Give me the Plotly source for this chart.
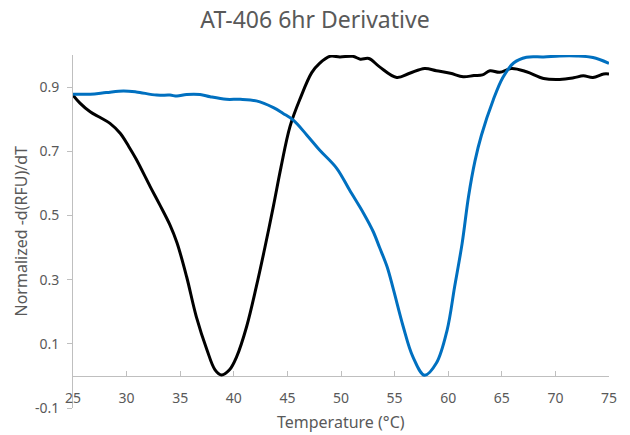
import plotly.graph_objects as go

# Temperature (°C) and normalized -d(RFU)/dT for each run
black_temp = [25.0, 25.65, 26.6, 27.5, 28.45, 29.4, 30.2, 30.9, 32.2, 33.1, 34.05, 34.7,
              35.6, 36.5, 37.5, 38.25, 38.85, 39.6, 40.27, 41.2, 42.1, 42.9, 43.7, 44.4,
              45.24, 46.2, 47.27, 48.0, 48.97, 49.9, 51.1, 51.8, 52.6, 53.6, 55.2, 56.4,
              57.8, 58.9, 60.2, 61.4, 62.4, 63.2, 63.9, 64.8, 65.9, 67.3, 68.9, 70.4,
              71.7, 72.6, 73.5, 74.5, 75.0]
black_vals = [0.875, 0.85, 0.823, 0.806, 0.787, 0.756, 0.715, 0.675, 0.59, 0.533, 0.47, 0.415,
              0.309, 0.185, 0.081, 0.019, 0.003, 0.019, 0.06, 0.154, 0.278, 0.40, 0.53, 0.65,
              0.777, 0.865, 0.945, 0.974, 0.996, 0.994, 0.996, 0.987, 0.989, 0.963, 0.93, 0.943,
              0.958, 0.951, 0.943, 0.932, 0.936, 0.938, 0.951, 0.946, 0.958, 0.948, 0.927, 0.924,
              0.929, 0.935, 0.93, 0.941, 0.941]

blue_temp = [25.0, 26.6, 28.1, 29.7, 30.9, 32.8, 34.05, 34.7, 35.6, 36.85, 37.8, 39.3,
             40.6, 42.1, 43.7, 44.6, 45.55, 46.8, 48.0, 49.6, 50.8, 52.1, 53.0, 53.6,
             54.3, 54.9, 55.8, 56.7, 57.8, 58.9, 59.9, 60.6, 61.3, 61.9, 62.5, 63.1,
             64.2, 65.1, 66.1, 67.3, 68.9, 70.4, 72.0, 73.5, 75.0]
blue_vals = [0.878, 0.878, 0.883, 0.888, 0.885, 0.875, 0.875, 0.872, 0.877, 0.877, 0.870, 0.862,
             0.862, 0.857, 0.836, 0.818, 0.797, 0.751, 0.704, 0.647, 0.579, 0.507, 0.45, 0.40,
             0.34, 0.268, 0.154, 0.06, 0.002, 0.04, 0.143, 0.278, 0.413, 0.56, 0.67, 0.75,
             0.86, 0.93, 0.975, 0.993, 0.994, 0.997, 0.997, 0.992, 0.974]

y_ticks = [-0.1, 0.1, 0.3, 0.5, 0.7, 0.9]
y_tick_text = ["-0.1", "0.1", "0.3", "0.5", "0.7", "0.9"]
x_ticks = [25, 30, 35, 40, 45, 50, 55, 60, 65, 70, 75]

FONT = "Noto Sans"
GREY_TEXT = "#595959"
AXIS_GREY = "#bfbfbf"
W, H = 630, 435

fig = go.Figure()
fig.add_trace(go.Scatter(x=black_temp, y=black_vals, mode="lines",
                         line=dict(color="#000000", width=3, shape="spline", smoothing=1.0),
                         showlegend=False))
fig.add_trace(go.Scatter(x=blue_temp, y=blue_vals, mode="lines",
                         line=dict(color="#0070c0", width=3, shape="spline", smoothing=1.0),
                         showlegend=False))

fig.update_layout(
    width=W, height=H,
    margin=dict(l=73, r=21, t=55, b=27),
    paper_bgcolor="white", plot_bgcolor="white",
    font=dict(family=FONT, color=GREY_TEXT),
    title=dict(text="AT-406 6hr Derivative", x=0.5, xanchor="center",
               y=1 - 20 / H, yanchor="middle",
               font=dict(family=FONT, size=23, color=GREY_TEXT)),
    xaxis=dict(range=[25, 75], tickvals=x_ticks, ticks="inside", ticklen=5,
               tickcolor=AXIS_GREY, showline=True, linecolor=AXIS_GREY, linewidth=1,
               showgrid=False, zeroline=False, anchor="free", position=0.1 / 1.1,
               layer="below traces", tickfont=dict(size=14, color=GREY_TEXT),
               ticklabelstandoff=9),
    yaxis=dict(range=[-0.1, 1.0], tickvals=y_ticks, ticktext=y_tick_text,
               ticks="outside", ticklen=5, tickcolor=AXIS_GREY,
               showline=True, linecolor=AXIS_GREY, linewidth=1,
               showgrid=False, zeroline=False, layer="below traces",
               tickfont=dict(size=14, color=GREY_TEXT), ticklabelstandoff=5),
    annotations=[
        dict(text="Temperature (°C)", xref="paper", yref="paper",
             x=0.5, y=-(422 - 408) / 353, xanchor="center", yanchor="middle",
             showarrow=False, font=dict(size=16, color=GREY_TEXT)),
        dict(text="Normalized -d(RFU)/dT", xref="paper", yref="paper",
             x=-(73 - 20) / 536, y=0.5, xanchor="center", yanchor="middle",
             textangle=-90, showarrow=False, font=dict(size=16, color=GREY_TEXT)),
    ],
)

fig.write_html("out.html")
